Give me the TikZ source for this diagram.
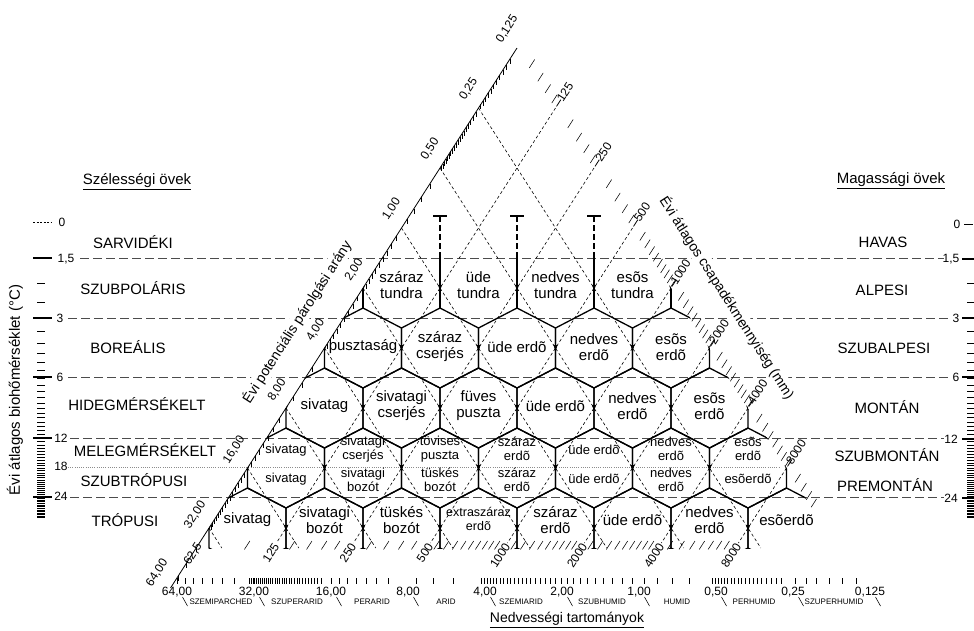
\documentclass[tikz,border=0pt]{standalone}
\usepackage{fontspec}
\setmainfont{Liberation Sans}
\begin{document}
\begin{tikzpicture}[x=1pt,y=-1pt,
  hexline/.style={line width=1.3pt,black,line join=round},
  gridline/.style={line width=0.6pt,black,dash pattern=on 3pt off 2.5pt},
  zoneline/.style={line width=0.8pt,black!70,dash pattern=on 9pt off 4pt},
  frostline/.style={line width=0.8pt,black!45,dash pattern=on 1pt off 1.2pt},
  tickline/.style={line width=0.55pt,black},
  celltext/.style={font=\fontsize{15}{16}\selectfont,align=center,inner sep=0pt},
  smallcell/.style={font=\fontsize{13}{14}\selectfont,align=center,inner sep=0pt},
  zonetext/.style={font=\fontsize{15}{16}\selectfont,inner sep=0pt},
  scaletext/.style={font=\fontsize{12}{12}\selectfont,inner sep=0pt},
  provtext/.style={font=\fontsize{8}{8}\selectfont,inner sep=0pt},
  edgelabel/.style={font=\fontsize{12}{12}\selectfont,inner sep=0pt,rotate=57.3},
]
\fill[white] (0,0) rectangle (974,630);
\useasboundingbox (0,0) rectangle (974,630);

% ---------- zone lines ----------
\draw[zoneline] (80,258) -- (944,258);
\draw[zoneline] (68,318) -- (950,318);
\draw[zoneline] (68,377) -- (950,377);
\draw[zoneline] (70,438) -- (944,438);
\draw[frostline] (68,467) -- (780,467);
\draw[zoneline] (70,497) -- (944,497);

% ---------- temperature rulers ----------
\foreach \t in {2,2.5,...,30}{
  \pgfmathsetmacro\ty{258+86.56*ln(\t/1.5)}
  \draw[tickline] (37,\ty) -- (45,\ty);
  \draw[tickline] (967,\ty) -- (974,\ty);
}
\draw[line width=0.7pt,dash pattern=on 2pt off 1.5pt] (33,222) -- (52,222);
\foreach \yy in {258,318,377,438,497}{\draw[line width=1.2pt] (33,\yy) -- (52,\yy);}
\node[scaletext] (lz0) at (62,222) {0};
\node[scaletext] (lz15) at (66,259) {1,5};
\node[scaletext] (lz3) at (60,318) {3};
\node[scaletext] (lz6) at (60,377) {6};
\node[scaletext] (lz12) at (61,438) {12};
\node[scaletext] (lz18) at (61,466) {18};
\node[scaletext] (lz24) at (61,496) {24};
\draw[line width=1pt] (964,224) -- (973,224);
\foreach \yy in {259,318,377,439,498}{\draw[line width=1.2pt] (962,\yy) -- (974,\yy);}
\node[scaletext] (rz0) at (957,224) {0};
\node[scaletext] (rz15) at (951,259) {1,5};
\node[scaletext] (rz3) at (956,318) {3};
\node[scaletext] (rz6) at (956,377) {6};
\node[scaletext] (rz12) at (951,439) {12};
\node[scaletext] (rz24) at (951,498) {24};

% ---------- zone names ----------
\node[zonetext] (t1) at (137,182) {\underline{Szélességi övek}};
\node[zonetext] (t2) at (891,181) {\underline{Magassági övek}};
\node[zonetext] (z1) at (133,242) {SARVIDÉKI};
\node[zonetext] (z2) at (133,288) {SZUBPOLÁRIS};
\node[zonetext] (z3) at (128,347) {BOREÁLIS};
\node[zonetext] (z4) at (137,404) {HIDEGMÉRSÉKELT};
\node[zonetext] (z5) at (145,450) {MELEGMÉRSÉKELT};
\node[zonetext] (z6) at (134,480) {SZUBTRÓPUSI};
\node[zonetext] (z7) at (125,520) {TRÓPUSI};
\node[zonetext] (m1) at (883,242) {HAVAS};
\node[zonetext] (m2) at (882,290) {ALPESI};
\node[zonetext] (m3) at (884,348) {SZUBALPESI};
\node[zonetext] (m4) at (887,407) {MONTÁN};
\node[zonetext] (m5) at (887,455) {SZUBMONTÁN};
\node[zonetext] (m6) at (885,485) {PREMONTÁN};
\node[zonetext,rotate=90] (ylab) at (15,390) {Évi átlagos biohőmérséklet (°C)};

% ---------- triangular grid ----------
\foreach \n in {1,...,8}{
  \draw[gridline] ({517-38.5*\n},{48+60*\n}) -- ({837.8-77*\n},548);
}
\foreach \n in {1,...,7}{
  \draw[gridline] ({517+38.5*\n},{48+60*\n}) -- ({199.4+77*\n},543);
}
% titles along the edges (white ground breaks the lines)
\node[font=\fontsize{14}{14}\selectfont,rotate=57.3,fill=white,inner sep=1pt] (petlab) at (297,322) {Évi potenciális párolgási arány};
\node[font=\fontsize{14}{14}\selectfont,rotate=-57.3,fill=white,inner sep=1pt] (preclab) at (727,298) {Évi átlagos csapadékmennyiség (mm)};

% left edge (PET ratio axis)
\draw[line width=0.8pt] (517,48) -- (170.5,588);
\foreach \v in {56,48,40, 31,30,...,9, 7,6,5, 3.8,3.6,...,2.2, 1.9,1.8,...,1.1, 0.9,0.8,...,0.55, 0.4875,0.475,...,0.26, 0.24,0.23,...,0.13}{
  \pgfmathsetmacro\nn{1.4427*ln(\v)+3}
  \draw[tickline] ({517-38.5*\nn},{48+60*\nn}) -- ++(0,5);
}
% right edge (precipitation) ticks
\foreach \p in {75,87.5,100,112.5, 150,175,200,225, 300,350,400,450, 550,600,...,950, 1100,1200,...,1900, 2200,2400,...,3800, 4500,5000,...,7500, 9000,10000,...,12000}{
  \pgfmathsetmacro\nn{1.4427*ln(\p/62.5)}
  \draw[tickline] ({517+38.5*\nn+7.5},{48+60*\nn-4.2}) -- ++(-5.4,8.4);
}
\foreach \n in {1,...,7}{
  \draw[line width=0.8pt] ({517+38.5*\n+1},{48+60*\n-1.6}) -- ++(4.3,-6.7);
}
% base ticks
\foreach \p in {100, 150,175,200,225, 300,350,400,450, 550,600,...,950, 1100,1200,...,1900, 2200,2400,...,3800, 4500,5000,...,7500}{
  \pgfmathsetmacro\xx{194.9+111.09*ln(\p/62.5)}
  \draw[tickline] (\xx+2.7,541) -- ++(-5.4,8.4);
}
% humidity ruler
\foreach \v in {60,56,...,36, 31.5,31,...,16.5, 15,14,...,9, 7,6,5, 3.9,3.8,...,0.55, 0.4875,0.475,...,0.26, 0.23,0.21,...,0.13}{
  \pgfmathsetmacro\xx{632.5-111.09*ln(\v)}
  \draw[tickline] (\xx,578) -- (\xx,584);
}
\foreach \k in {0,...,9}{
  \draw[tickline] ({182.5+77*\k},597) -- ++(5,9);
}

% ---------- honeycomb ----------
\begin{scope}
  \clip (517,48) -- (170.5,588) -- (863.5,588) -- cycle;
  \clip (0,0) rectangle (974,548);
  \foreach \c in {-4,-2,0,2,4}{
    \pgfmathsetmacro\xc{517+38.5*\c}
    \draw[hexline] (\xc,258) -- (\xc,308);
    \fill (\xc-2,285) -- (\xc+2,285) -- (\xc,290.5) -- cycle;
  }
  \foreach \r in {2,3,4,5}{
    \pgfmathsetmacro\yc{288+60*(\r-1)}
    \pgfmathtruncatemacro\cm{\r+2}
    \pgfmathtruncatemacro\cs{-\r}
    \foreach \c in {-\cm,\cs,...,\cm}{
      \pgfmathsetmacro\xc{517+38.5*\c}
      \draw[hexline] (\xc,\yc-40) -- (\xc+38.5,\yc-20) -- (\xc+38.5,\yc+20) -- (\xc,\yc+40) -- (\xc-38.5,\yc+20) -- (\xc-38.5,\yc-20) -- cycle;
      \fill (\xc+36.5,\yc-3) -- (\xc+40.5,\yc-3) -- (\xc+38.5,\yc+2.5) -- cycle;
      \fill (\xc-40.5,\yc-3) -- (\xc-36.5,\yc-3) -- (\xc-38.5,\yc+2.5) -- cycle;
    }
  }
\end{scope}
\fill[white] (820,524) rectangle (831,550);
\foreach \c in {-2,0,2}{
  \draw[line width=1.1pt,dash pattern=on 6pt off 3pt] ({517+38.5*\c},216) -- ({517+38.5*\c},258);
  \draw[line width=1.2pt] ({510+38.5*\c},216) -- ({524+38.5*\c},216);
}

% ---------- axis labels ----------
\node[edgelabel] (pe0) at (507,29) {0,125};
\node[edgelabel] (pe1) at (468.5,89) {0,25};
\node[edgelabel] (pe2) at (430,149) {0,50};
\node[edgelabel] (pe3) at (391.5,209) {1,00};
\node[edgelabel] (pe4) at (354,270) {2,00};
\node[edgelabel] (pe5) at (315.5,330) {4,00};
\node[edgelabel] (pe6) at (277,390) {8,00};
\node[edgelabel] (pe7) at (234,450) {16,00};
\node[edgelabel] (pe8) at (195,515) {32,00};
\node[edgelabel] (pe9) at (157,573) {64,00};
\node[edgelabel] (pr1) at (565,92) {125};
\node[edgelabel] (pr2) at (603.5,152) {250};
\node[edgelabel] (pr3) at (642,212) {500};
\node[edgelabel] (pr4) at (680.5,272) {1000};
\node[edgelabel] (pr5) at (719,332) {2000};
\node[edgelabel] (pr6) at (757.5,392) {4000};
\node[edgelabel] (pr7) at (796,452) {8000};
\foreach \n/\lab in {0/{62,5},1/125,2/250,3/500,4/1000,5/2000,6/4000,7/8000}{
  \node[edgelabel,anchor=east] (pb\n) at ({199.4+77*\n},544) {\lab};
}

% humidity labels
\foreach \k/\lab in {0/{64,00},1/{32,00},2/{16,00},3/{8,00},4/{4,00},5/{2,00},6/{1,00},7/{0,50},8/{0,25},9/{0,125}}{
  \node[scaletext] (hl\k) at ({177+77*\k},592) {\lab};
}
\node[provtext] (hp1) at (221,602) {SZEMIPARCHED};
\node[provtext] (hp2) at (297,602) {SZUPERARID};
\node[provtext] (hp3) at (372,602) {PERARID};
\node[provtext] (hp4) at (446,602) {ARID};
\node[provtext] (hp5) at (521,602) {SZEMIARID};
\node[provtext] (hp6) at (602,602) {SZUBHUMID};
\node[provtext] (hp7) at (677,602) {HUMID};
\node[provtext] (hp8) at (754,602) {PERHUMID};
\node[provtext] (hp9) at (834,602) {SZUPERHUMID};
\node[font=\fontsize{14}{14}\selectfont,inner sep=0pt] (hum) at (567,620) {\underline{Nedvességi tartományok}};

% ---------- cell labels ----------
\node[celltext] (a1) at (401.5,285) {száraz\\tundra};
\node[celltext] (a2) at (478.5,285) {üde\\tundra};
\node[celltext] (a3) at (555.5,285) {nedves\\tundra};
\node[celltext] (a4) at (632.5,285) {esõs\\tundra};
\node[celltext] (b1) at (363,347) {pusztaság};
\node[celltext] (b2) at (440,347) {száraz\\cserjés};
\node[celltext] (b3) at (517,347) {üde erdõ};
\node[celltext] (b4) at (594,347) {nedves\\erdõ};
\node[celltext] (b5) at (671,347) {esõs\\erdõ};
\node[celltext] (c1) at (324.5,406) {sivatag};
\node[celltext] (c2) at (401.5,406) {sivatagi\\cserjés};
\node[celltext] (c3) at (478.5,406) {füves\\puszta};
\node[celltext] (c4) at (555.5,406) {üde erdõ};
\node[celltext] (c5) at (632.5,406) {nedves\\erdõ};
\node[celltext] (c6) at (709.5,406) {esõs\\erdõ};
\node[smallcell] (d1) at (286,450) {sivatag};
\node[smallcell] (d2) at (363,449) {sivatagi\\cserjés};
\node[smallcell] (d3) at (440,449) {tövises\\puszta};
\node[smallcell] (d4) at (517,449) {száraz\\erdõ};
\node[smallcell] (d5) at (594,450) {üde erdõ};
\node[smallcell] (d6) at (671,449) {nedves\\erdõ};
\node[smallcell] (d7) at (748,449) {esõs\\erdõ};
\node[smallcell] (e1) at (286,479) {sivatag};
\node[smallcell] (e2) at (363,480) {sivatagi\\bozót};
\node[smallcell] (e3) at (440,480) {tüskés\\bozót};
\node[smallcell] (e4) at (517,480) {száraz\\erdõ};
\node[smallcell] (e5) at (594,479) {üde erdõ};
\node[smallcell] (e6) at (671,480) {nedves\\erdõ};
\node[smallcell] (e7) at (748,479) {esõerdõ};
\node[celltext] (f1) at (247.5,520) {sivatag};
\node[celltext] (f2) at (324.5,520) {sivatagi\\bozót};
\node[celltext] (f3) at (401.5,520) {tüskés\\bozót};
\node[celltext,font=\fontsize{12.5}{13.5}\selectfont] (f4) at (478.5,519) {extraszáraz\\erdõ};
\node[celltext] (f5) at (555.5,520) {száraz\\erdõ};
\node[celltext] (f6) at (632.5,520) {üde erdõ};
\node[celltext] (f7) at (709.5,520) {nedves\\erdõ};
\node[celltext] (f8) at (786.5,520) {esõerdõ};
\end{tikzpicture}
\end{document}
